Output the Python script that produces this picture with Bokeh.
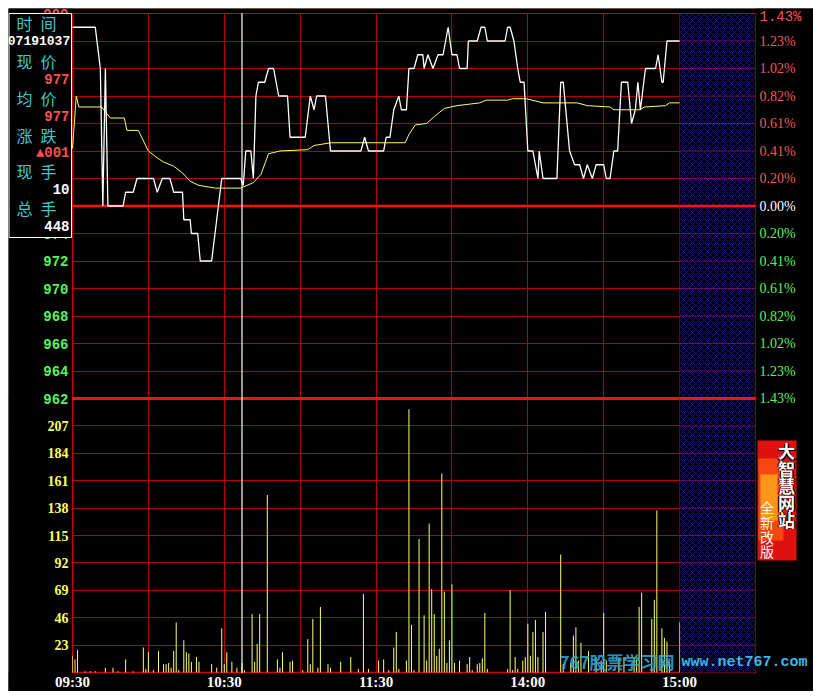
from bokeh.plotting import figure
from bokeh.layouts import column, row
from bokeh.models import (Range1d, FixedTicker, Span, BoxAnnotation, Label, Grid,
                          LabelSet, ColumnDataSource, Spacer)
from bokeh.core.properties import value
from bokeh.embed import file_html
from bokeh.resources import INLINE

# ---------------- data ----------------
prev_close = 976
session_end = 240      # 15:00 in trading minutes
axis_end = 270
price_low, price_high = 962, 990
vol_max = 230

price_ticks = [962, 964, 966, 968, 970, 972, 974, 976, 978, 980, 982, 984, 986, 988, 990]
price_tick_labels = ["962", "964", "966", "968", "970", "972", "974", "", "", "", "", "", "", "", "990"]
price_tick_colors = ["#5cf05c"] * 7 + ["#ffffff"] + ["#ff5050"] * 7
pct_labels = ["1.43%", "1.23%", "1.02%", "0.82%", "0.61%", "0.41%", "0.20%", "0.00%",
              "0.20%", "0.41%", "0.61%", "0.82%", "1.02%", "1.23%", "1.43%"]
pct_colors = ["#5cf05c"] * 7 + ["#ffffff"] + ["#f05a5a"] * 7
vol_ticks = [23, 46, 69, 92, 115, 138, 161, 184, 207]
time_ticks = [0, 30, 60, 90, 120, 150, 180, 210, 240]
time_labels = ["09:30", "", "10:30", "", "11:30", "", "14:00", "", "15:00"]

price_min = [0, 9, 10, 11, 12, 13, 14, 20, 21, 24, 25.5, 32, 33.5, 35.5, 38.5, 40, 43.5, 44,
             46.5, 47, 49.5, 50.5, 55, 59, 66.5, 67.5, 68.5, 70.5, 71.5, 72.5, 73.5, 76, 77.5,
             79.5, 81.5, 85, 86, 92, 94, 95.5, 96.5, 100, 102, 114, 115.5, 117, 123, 124, 125.5,
             127, 129, 130, 132, 133, 135, 136.5, 138.5, 139, 140.5, 142.5, 144.5, 146.5, 147.5,
             148.5, 150, 152, 153, 156, 156.5, 160, 161.5, 163, 164, 171, 172, 173, 174.5, 176,
             177, 178.5, 180, 182, 184, 184.5, 186, 191.5, 193, 194, 196.5, 198.5, 200.5, 202,
             203.5, 205.5, 207, 210, 211, 212.5, 214, 215.5, 217, 219.5, 221, 222.5, 223.5,
             224.5, 226.5, 230.5, 231.5, 233, 233.5, 235, 240]
price_val = [989, 989, 987.5, 986, 976, 986, 976, 976, 977, 977, 978, 978, 977, 978, 978, 977,
             977, 975, 975, 974, 974, 972, 972, 978, 978, 977.5, 980, 980, 978, 984, 985, 985,
             986, 986, 984, 984, 981, 981, 984, 983, 984, 984, 980, 980, 981, 980, 980, 981,
             981, 983, 984, 983, 983, 986, 986, 987, 987, 986, 987, 986, 987, 987, 988, 989,
             987, 987, 986, 986, 988, 988, 989, 989, 988, 988, 989, 989, 988, 986, 985, 985,
             980, 980, 978, 980, 978, 978, 985, 985, 980, 979, 979, 978, 979, 978, 979, 979,
             978, 978, 980, 980, 985, 985, 982, 983, 985, 983, 986, 986, 987, 985, 985, 988, 988]

avg_min = [0, 1.5, 2.5, 11.5, 15, 20.5, 21.5, 26, 30, 33.5, 36, 40, 43.5, 46.5, 50, 56.5, 66.5,
           71.5, 74.5, 77.5, 82, 93, 95.5, 102, 131.5, 133, 135.5, 140, 143, 147, 152, 161,
           163.5, 172, 174, 179.5, 186, 199.5, 203.5, 212.5, 214, 224.5, 226, 234.5, 236, 240]
avg_val = [980.2, 984, 983.2, 983.2, 982.4, 982.4, 981.5, 981.5, 980, 979.5, 979.2, 978.9,
           978.4, 977.8, 977.5, 977.3, 977.3, 977.7, 978.3, 979.8, 980, 980.1, 980.4, 980.6,
           980.6, 981.2, 981.9, 982, 982.5, 983.1, 983.3, 983.5, 983.7, 983.7, 983.8, 983.8,
           983.5, 983.5, 983.3, 983.2, 983, 983, 983.2, 983.3, 983.5, 983.5]

vol_min = [0, 1, 2, 5, 7, 9, 13, 16, 18, 21, 24, 28, 29, 30, 32, 34, 36, 37, 38, 39, 40, 41,
           42, 44, 45, 46, 47, 49, 50, 55, 57, 59, 60, 61, 63, 65, 67, 68, 71, 72, 73, 74, 77,
           81, 82, 83, 86, 87, 91, 93, 94, 95, 97, 98, 101, 102, 106, 110, 113, 115, 117, 121,
           123, 125, 127, 128, 129, 132, 133, 134, 135, 137, 139, 140, 141, 142, 143, 144, 145,
           146, 147, 148, 149, 150, 151, 153, 156, 157, 158, 160, 161, 162, 163, 164, 172, 173,
           174, 175, 176, 178, 179, 180, 181, 182, 183, 184, 186, 187, 193, 194, 197, 198, 199,
           200, 201, 204, 207, 209, 210, 211, 216, 218, 222, 223, 224, 225, 229, 230, 231, 233,
           234, 235, 236, 240]
vol_val = [14, 11, 19, 1, 1, 1, 4, 4, 1, 11, 1, 21, 3, 17, 2, 18, 7, 7, 8, 4, 18, 42, 2, 27,
           17, 16, 9, 13, 9, 7, 4, 37, 7, 17, 9, 4, 8, 2, 49, 9, 24, 49, 149, 11, 4, 17, 9, 10,
           2, 28, 7, 45, 4, 55, 7, 4, 9, 13, 3, 66, 3, 10, 11, 2, 21, 34, 3, 10, 221, 40, 2, 112,
           48, 10, 125, 70, 49, 14, 20, 167, 68, 8, 27, 74, 8, 10, 7, 13, 2, 7, 8, 12, 50, 3, 3,
           69, 2, 13, 3, 10, 13, 41, 14, 34, 44, 13, 34, 51, 99, 7, 8, 31, 38, 10, 25, 18, 13,
           10, 50, 10, 12, 13, 13, 11, 55, 67, 45, 61, 136, 37, 29, 26, 9, 42]
vol_colors = ["#ffa030"] + ["#ffff70"] * (len(vol_val) - 2) + ["#ffa030"]

cursor_min = 67
cursor_time = "07191037"
cursor_price = "977"
cursor_avg = "977"
cursor_change = "▲001"
cursor_hand = "10"
total_hand = "448"

# ---------------- layout helpers (page pixels -> data) ----------------
FL, FR, PT, PB, VB = 72.0, 755.0, 13.0, 398.0, 672.0
CX0, CX1, CY0, CY1 = 8.0, 813.0, 8.0, 691.0     # canvas extent on the page


def X(x):
    return (x - FL) * axis_end / (FR - FL)


def YP(y):
    return price_high - (y - PT) * (price_high - price_low) / (PB - PT)


def YV(y):
    return (VB - y) * vol_max / (VB - PB)


GRID = "#b40000"
RED_LINE = "#ff1010"
MONO = "Liberation Mono"
CJK = "Noto Sans CJK SC"

p = figure(width=int(CX1 - CX0), height=int(CY1 - CY0),
           x_range=Range1d(X(CX0), X(CX1)), y_range=Range1d(YP(CY1), YP(CY0)),
           x_axis_location=None, y_axis_location=None, output_backend="svg",
           toolbar_location=None, min_border=0, min_border_left=0, min_border_right=0,
           min_border_top=0, min_border_bottom=0,
           background_fill_color="black", border_fill_color="black", outline_line_color=None)
p.extra_y_ranges = {"vol": Range1d(YV(CY1), YV(CY0))}

# grids
p.xgrid.ticker = FixedTicker(ticks=time_ticks)
p.ygrid.ticker = FixedTicker(ticks=price_ticks)
p.add_layout(Grid(dimension=1, ticker=FixedTicker(ticks=vol_ticks), y_range_name="vol"))
for g in p.grid:
    g.grid_line_color = GRID
    g.grid_line_width = 1
    g.grid_line_alpha = 1

# frame borders and special lines (under the data)
for loc in (0, axis_end):
    p.add_layout(Span(location=loc, dimension="height", line_color="#d00000", line_width=1.5, level="underlay"))
p.add_layout(Span(location=price_high, dimension="width", line_color="#d00000", line_width=1, level="underlay"))
p.add_layout(Span(location=0, dimension="width", y_range_name="vol", line_color="#d00000",
                  line_width=1.5, level="underlay"))
p.add_layout(Span(location=prev_close, dimension="width", line_color=RED_LINE, line_width=2.5, level="underlay"))
p.add_layout(Span(location=price_low, dimension="width", line_color=RED_LINE, line_width=3, level="underlay"))
p.add_layout(Span(location=cursor_min, dimension="height", line_color="white", line_width=1.2, level="underlay"))

# after-close hatched region
hatch = dict(fill_color="#00000c", fill_alpha=1, line_color=None, hatch_pattern="x",
             hatch_color="#17176e", hatch_scale=6, hatch_weight=1)
p.quad(left=[session_end], right=[axis_end], bottom=[price_low], top=[price_high], **hatch)
p.quad(left=[session_end], right=[axis_end], bottom=[0], top=[vol_max], y_range_name="vol", **hatch)
# grid lines stay visible through the hatch
p.segment(x0=[session_end] * len(price_ticks), x1=[axis_end] * len(price_ticks), y0=price_ticks,
          y1=price_ticks, line_color="#a0106a", line_width=1, line_dash="2 1")
p.segment(x0=[session_end] * len(vol_ticks), x1=[axis_end] * len(vol_ticks), y0=vol_ticks,
          y1=vol_ticks, y_range_name="vol", line_color="#a0106a", line_width=1, line_dash="2 1")
p.segment(x0=[session_end], x1=[axis_end], y0=[prev_close], y1=[prev_close],
          line_color=RED_LINE, line_width=2.5)
p.segment(x0=[session_end], x1=[axis_end], y0=[price_low], y1=[price_low],
          line_color=RED_LINE, line_width=3)

# data
p.line(avg_min, avg_val, line_color="#ffff60", line_width=1)
p.line(price_min, price_val, line_color="white", line_width=1.3)
p.segment(x0=vol_min, y0=[0] * len(vol_min), x1=vol_min, y1=vol_val, y_range_name="vol",
          line_color=vol_colors, line_width=1)

# black masks around the plotting area
mask = dict(fill_color="black", line_color=None)
p.quad(left=[X(CX0)], right=[X(FL - 0.8)], bottom=[YP(CY1)], top=[YP(CY0)], **mask)
p.quad(left=[X(FR + 0.8)], right=[X(CX1)], bottom=[YP(CY1)], top=[YP(CY0)], **mask)
p.quad(left=[X(CX0)], right=[X(CX1)], bottom=[YP(PT - 0.5)], top=[YP(CY0)], **mask)
p.quad(left=[X(CX0)], right=[X(CX1)], bottom=[YP(CY1)], top=[YP(VB + 0.8)], **mask)

# left price labels (partly hidden by the info box, as in the original)
p.text(x=[0] * len(price_ticks), y=price_ticks, text=price_tick_labels, x_offset=-4,
       text_align="right", text_baseline="middle", text_color=price_tick_colors,
       text_font=value(MONO), text_font_size="14px", text_font_style="bold")

# info box
p.quad(left=[X(8.5)], right=[X(71)], bottom=[YP(237)], top=[YP(13)],
       fill_color="black", line_color="white", line_width=1)
cyan = "#40c8c8"
SP = "\u2002"
info = [
    ("时" + SP + "间", 36, 22, "center", cyan, CJK, "16px", "normal"),
    (cursor_time, 38.5, 40, "center", "white", MONO, "13px", "bold"),
    ("现" + SP + "价", 36, 60, "center", cyan, CJK, "16px", "normal"),
    (cursor_price, 69, 78, "right", "#ff5050", MONO, "14px", "bold"),
    ("均" + SP + "价", 36, 97, "center", cyan, CJK, "16px", "normal"),
    (cursor_avg, 69, 115, "right", "#ff5050", MONO, "14px", "bold"),
    ("涨" + SP + "跌", 36, 134, "center", cyan, CJK, "16px", "normal"),
    (cursor_change, 69, 152, "right", "#ff5050", MONO, "14px", "bold"),
    ("现" + SP + "手", 36, 170, "center", cyan, CJK, "16px", "normal"),
    (cursor_hand, 69, 188, "right", "white", MONO, "14px", "bold"),
    ("总" + SP + "手", 36, 207, "center", cyan, CJK, "16px", "normal"),
    (total_hand, 69, 225, "right", "white", MONO, "14px", "bold"),
]
for t, x, y, al, col, fnt, sz, st in info:
    p.add_layout(Label(x=X(x), y=YP(y), text=t, text_align=al, text_baseline="middle",
                       text_color=col, text_font=fnt, text_font_size=sz, text_font_style=st))

# right percentage labels (the top one is nudged inside the canvas)
pct_src = ColumnDataSource(dict(x=[axis_end] * (len(price_ticks) - 1), y=price_ticks[:-1],
                                text=pct_labels[:-1], color=pct_colors[:-1]))
p.add_layout(LabelSet(x="x", y="y", text="text", source=pct_src, x_offset=4,
                      text_align="left", text_baseline="middle", text_color="color",
                      text_font=MONO, text_font_size="14px"))
p.add_layout(Label(x=axis_end, y=price_ticks[-1], text=pct_labels[-1], x_offset=4, y_offset=5,
                   text_align="left", text_baseline="top", text_color=pct_colors[-1],
                   text_font=MONO, text_font_size="14px"))

# volume labels
vol_src = ColumnDataSource(dict(x=[0] * len(vol_ticks), y=vol_ticks, text=[str(t) for t in vol_ticks]))
p.add_layout(LabelSet(x="x", y="y", text="text", source=vol_src, x_offset=-4, y_range_name="vol",
                      text_align="right", text_baseline="middle", text_color="#ffff60",
                      text_font=MONO, text_font_size="14px", text_font_style="bold"))

# time labels
time_src = ColumnDataSource(dict(x=time_ticks, y=[YP(681)] * len(time_ticks), text=time_labels))
p.add_layout(LabelSet(x="x", y="y", text="text", source=time_src,
                      text_align="center", text_baseline="middle", text_color="white",
                      text_font=MONO, text_font_size="15px", text_font_style="bold"))

# watermark
p.add_layout(Label(x=X(559), y=YP(661), text="767股票学习网", text_baseline="middle",
                   text_color="#2aa8dc", text_font=CJK, text_font_size="17px", text_font_style="bold",
                   text_alpha=0.9))
p.add_layout(Label(x=X(681), y=YP(662), text="www.net767.com", text_baseline="middle",
                   text_color="#38b8e8", text_font=MONO, text_font_size="15px", text_font_style="bold"))

# ad panel
p.add_layout(BoxAnnotation(left=X(757), right=X(796), top=YP(440), bottom=YP(560),
                           fill_color="#e01010", fill_alpha=1, line_color=None))
p.add_layout(BoxAnnotation(left=X(758), right=X(783), top=YP(458), bottom=YP(540),
                           fill_color="#ff5a10", fill_alpha=0.75, line_color=None))
p.add_layout(BoxAnnotation(left=X(760), right=X(777), top=YP(474), bottom=YP(520),
                           fill_color="#ffc020", fill_alpha=0.65, line_color=None))
big_chars = ["大", "智", "慧", "网", "站"]
big_y = [450, 467.5, 484.5, 501.5, 518.5]
for ch, yy in zip(big_chars, big_y):
    for dx, col in ((1.2, "black"), (-1.2, "black"), (0, "white")):
        p.add_layout(Label(x=X(786), y=YP(yy), text=ch, x_offset=dx, y_offset=-abs(dx) * 0.5,
                           text_align="center", text_baseline="middle", text_color=col,
                           text_font=CJK, text_font_size="17px", text_font_style="bold"))
small_chars = ["全", "新", "改", "版"]
small_y = [506.5, 521.5, 536, 550]
for ch, yy in zip(small_chars, small_y):
    p.add_layout(Label(x=X(766.5), y=YP(yy), text=ch, text_align="center", text_baseline="middle",
                       text_color="#fff4f4", text_font=CJK, text_font_size="14px"))

layout = column(Spacer(height=int(CY0)), row(Spacer(width=int(CX0)), p))
open("out.html", "w").write(file_html(layout, INLINE))
